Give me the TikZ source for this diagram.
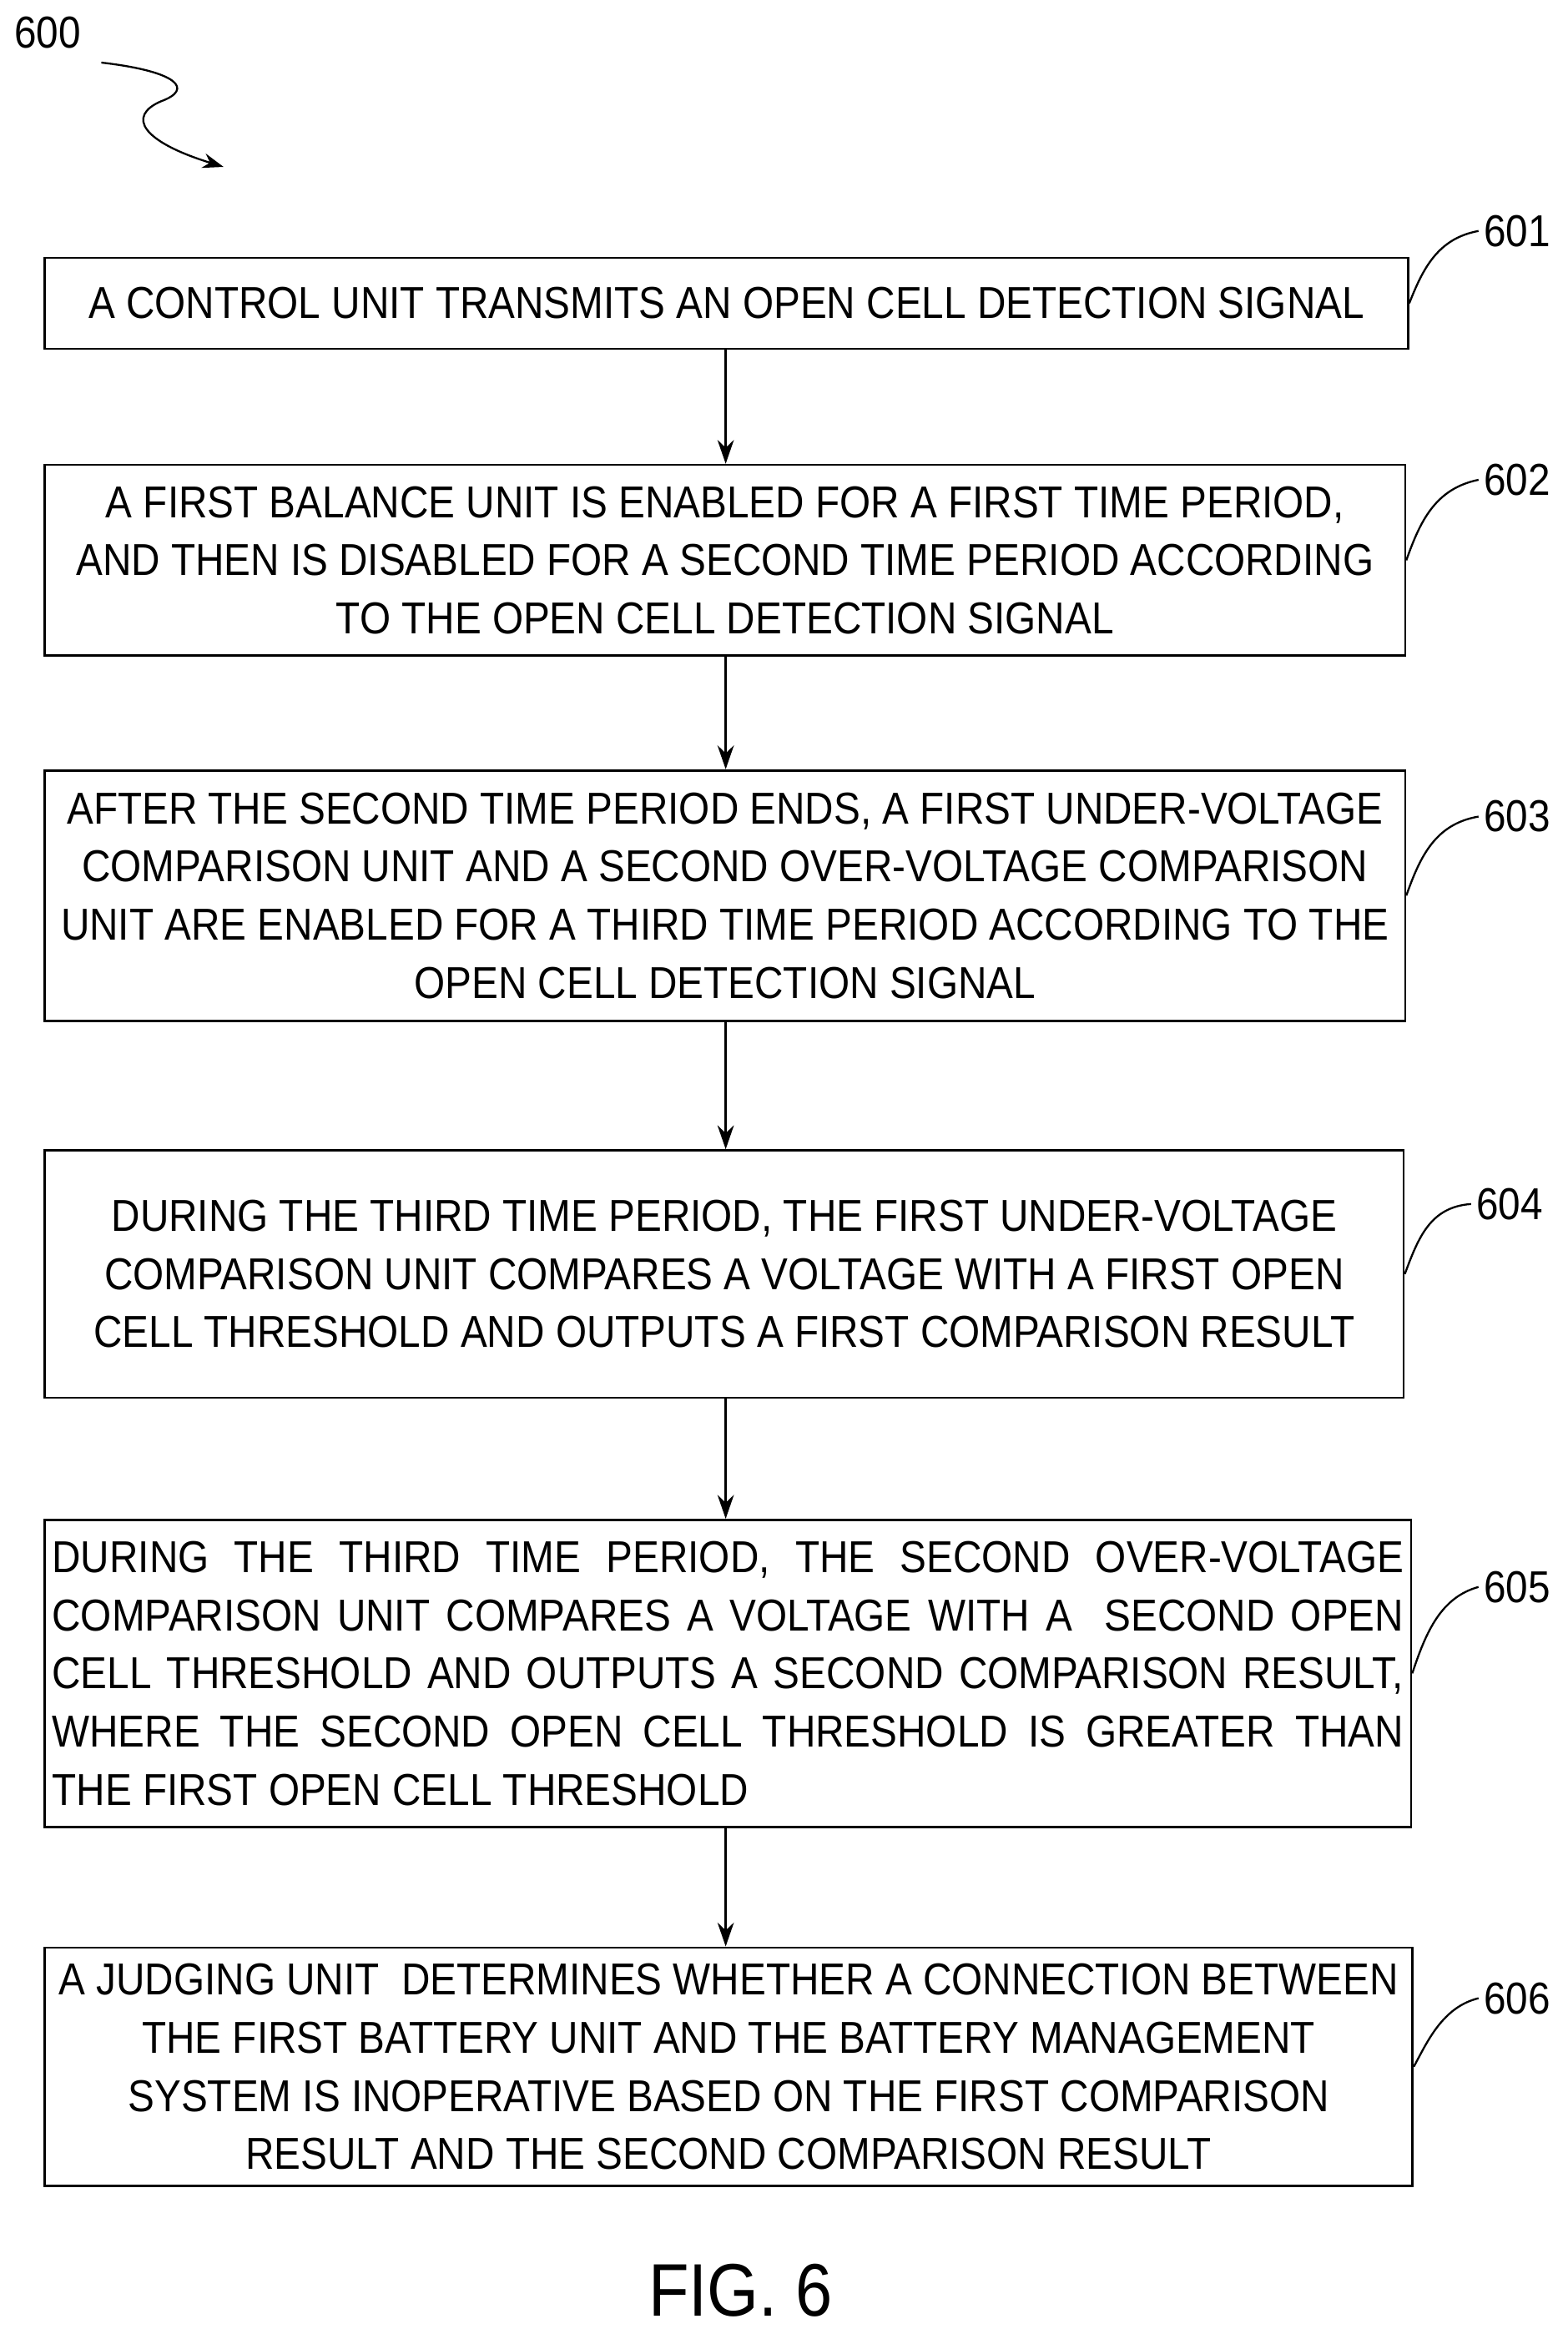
\documentclass[tikz,border=0pt]{standalone}
\usepackage{fontspec}
\setmainfont{Liberation Sans}[FakeStretch=0.89]
\usetikzlibrary{decorations.pathmorphing,arrows.meta}
\begin{document}
\begin{tikzpicture}[x=1pt,y=-1pt,
  box/.style={draw,line width=1.5pt,inner sep=0pt,align=center,font=\fontsize{30}{39}\selectfont},
  arr/.style={line width=1.5pt,-{Stealth[length=16pt,width=11pt]}},
  lead/.style={line width=1.3pt},
  lab/.style={font=\fontsize{30}{36}\selectfont}]
\useasboundingbox (0,0) rectangle (1052,1563);
\node[lab] (l600) at (32,22) {600};
\coordinate (s1) at (68,42);
\coordinate (s2) at (150,112);
\draw[lead,-{Stealth[length=14pt,width=10pt]}] (s1) .. controls (120,48) and (130,60) .. (108,68) .. controls (85,78) and (95,95) .. (s2);
\node[box,minimum width=915,minimum height=61] (b1) at (487.5,203.5) {A CONTROL UNIT TRANSMITS AN OPEN CELL DETECTION SIGNAL};
\node[box,minimum width=913,minimum height=128] (b2) at (486.5,376) {A FIRST BALANCE UNIT IS ENABLED FOR A FIRST TIME PERIOD,\\AND THEN IS DISABLED FOR A SECOND TIME PERIOD ACCORDING\\TO THE OPEN CELL DETECTION SIGNAL};
\node[box,minimum width=913,minimum height=168] (b3) at (486.5,601) {AFTER THE SECOND TIME PERIOD ENDS, A FIRST UNDER-VOLTAGE\\COMPARISON UNIT AND A SECOND OVER-VOLTAGE COMPARISON\\UNIT ARE ENABLED FOR A THIRD TIME PERIOD ACCORDING TO THE\\OPEN CELL DETECTION SIGNAL};
\node[box,minimum width=912,minimum height=166] (b4) at (486,855) {DURING THE THIRD TIME PERIOD, THE FIRST UNDER-VOLTAGE\\COMPARISON UNIT COMPARES A VOLTAGE WITH A FIRST OPEN\\CELL THRESHOLD AND OUTPUTS A FIRST COMPARISON RESULT};
\node[box,minimum width=917,minimum height=206,align=left] (b5) at (488.5,1123) {\hbox to 907pt{DURING THE THIRD TIME PERIOD, THE SECOND OVER-VOLTAGE}\\\hbox to 907pt{COMPARISON UNIT COMPARES A VOLTAGE WITH A \ SECOND OPEN}\\\hbox to 907pt{CELL THRESHOLD AND OUTPUTS A SECOND COMPARISON RESULT,}\\\hbox to 907pt{WHERE THE SECOND OPEN CELL THRESHOLD IS GREATER THAN}\\\hbox to 907pt{THE FIRST OPEN CELL THRESHOLD\hfil}};
\node[box,minimum width=918,minimum height=160] (b6) at (489,1387) {A JUDGING UNIT \ DETERMINES WHETHER A CONNECTION BETWEEN\\THE FIRST BATTERY UNIT AND THE BATTERY MANAGEMENT\\SYSTEM IS INOPERATIVE BASED ON THE FIRST COMPARISON\\RESULT AND THE SECOND COMPARISON RESULT};
\draw[arr] (b1.south -| 487,0) -- (b2.north -| 487,0);
\draw[arr] (b2.south -| 487,0) -- (b3.north -| 487,0);
\draw[arr] (b3.south -| 487,0) -- (b4.north -| 487,0);
\draw[arr] (b4.south -| 487,0) -- (b5.north -| 487,0);
\draw[arr] (b5.south -| 487,0) -- (b6.north -| 487,0);
\node[lab] (l1) at (1018,155) {601};
\node[lab] (l2) at (1018,322) {602};
\node[lab] (l3) at (1018,548) {603};
\node[lab] (l4) at (1013,808) {604};
\node[lab] (l5) at (1018,1065) {605};
\node[lab] (l6) at (1018,1341) {606};
\draw[lead] (b1.east) .. controls (955,180) and (965,160) .. (l1.west);
\draw[lead] (b2.east) .. controls (953,350) and (963,328) .. (l2.west);
\draw[lead] (b3.east) .. controls (953,575) and (963,553) .. (l3.west);
\draw[lead] (b4.east) .. controls (952,830) and (960,810) .. (l4.west);
\draw[lead] (b5.east) .. controls (957,1095) and (967,1072) .. (l5.west);
\draw[lead] (b6.east) .. controls (958,1370) and (968,1347) .. (l6.west);
\node[font=\fontsize{50}{60}\selectfont] (fig) at (497,1537) {FIG. 6};
\end{tikzpicture}
\end{document}
